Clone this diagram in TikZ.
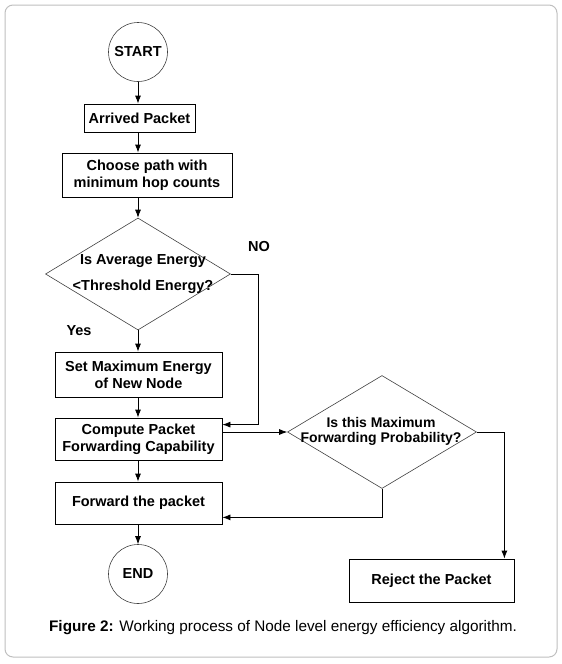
\documentclass[tikz,border=0pt]{standalone}
\usepackage{fontspec}
\setmainfont{Liberation Sans}
\usetikzlibrary{shapes.geometric,arrows.meta,calc}
\begin{document}
\begin{tikzpicture}[x=1pt,y=-1pt,
 box/.style={draw, line width=0.8pt, inner sep=0pt, font=\bfseries\fontsize{14.5}{17}\selectfont, align=center},
 term/.style={draw=black!75, line width=0.6pt, circle, minimum size=59pt, inner sep=0pt, font=\bfseries\fontsize{14.5}{17}\selectfont},
 dec/.style={draw=black!75, line width=0.6pt, diamond, inner sep=0pt},
 lbl/.style={font=\bfseries\fontsize{14.5}{17}\selectfont, align=center, inner sep=0pt},
 arr/.style={-{Latex[length=8pt,width=6pt]}, line width=0.8pt}]
\useasboundingbox (0,0) rectangle (562,664);
\draw[black!25, line width=1pt, rounded corners=8pt] (5,5) rectangle (557,657);

\node[term] (start) at (138,52) {START};
\node[box, minimum width=111pt, minimum height=28pt] (arrived) at (139.5,118) {Arrived Packet};
\node[box, minimum width=170pt, minimum height=44pt] (choose) at (147,175) {Choose path with\\minimum hop counts};
\node[dec, minimum width=185pt, minimum height=112pt] (dec1) at (138,274) {};
\node[lbl, font=\bfseries\fontsize{14.5}{26}\selectfont] (dec1t) at (143,274) {Is Average Energy\\<Threshold Energy?};
\node[lbl] (no) at (259,247) {NO};
\node[lbl] (yes) at (79,331) {Yes};
\node[box, minimum width=167pt, minimum height=45pt] (setmax) at (138.5,374.5) {Set Maximum Energy\\of New Node};
\node[box, minimum width=167pt, minimum height=42pt] (compute) at (138.5,439) {Compute Packet\\Forwarding Capability};
\node[box, minimum width=167pt, minimum height=42pt] (forward) at (138.5,503) {Forward the packet};
\node[term] (end) at (138,574) {END};
\node[dec, minimum width=189pt, minimum height=113pt] (dec2) at (382,432) {};
\node[lbl, font=\bfseries\fontsize{14}{15}\selectfont] (dec2t) at (381,431.5) {Is this Maximum\\Forwarding Probability?};
\node[box, minimum width=165pt, minimum height=43pt] (reject) at (431.5,580.5) {Reject the Packet};
\node[inner sep=0pt, font=\fontsize{15.3}{18}\selectfont] (cap) at (283,628) {\textbf{Figure 2:} Working process of Node level energy efficiency algorithm.};

\draw[arr] (start) -- (start |- arrived.north);
\draw[arr] (arrived.south -| start) -- (start |- choose.north);
\draw[arr] (choose.south -| start) -- (dec1.north);
\draw[arr] (dec1.south) -- (start |- setmax.north);
\draw[arr] (setmax.south -| start) -- (start |- compute.north);
\draw[arr] (compute.south -| start) -- (start |- forward.north);
\draw[arr] (forward.south -| start) -- (end);
\coordinate (noin) at ($(compute.north east)+(0,7)$);
\draw[arr] (dec1.east) -- ++(28,0) |- (noin);
\draw[arr] (compute.east |- dec2.west) -- (dec2.west);
\coordinate (fwdin) at ($(forward.south east)+(0,-7)$);
\draw[arr] (dec2.south) |- (fwdin);
\coordinate (rejin) at ($(reject.north east)+(-10,0)$);
\draw[arr] (dec2.east) -| (rejin);
\end{tikzpicture}
\end{document}
